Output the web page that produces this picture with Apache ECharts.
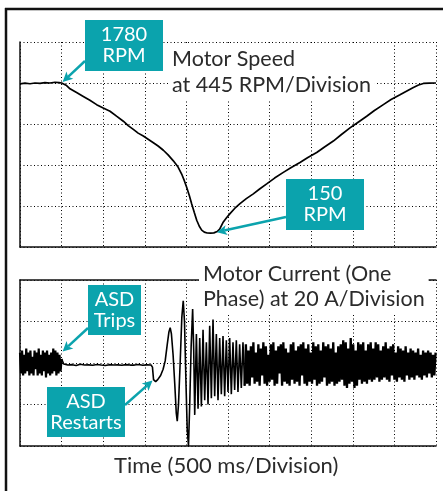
<!DOCTYPE html>
<html>
<head>
<meta charset="utf-8">
<script src="https://cdn.jsdelivr.net/npm/echarts@6.0.0/dist/echarts.min.js"></script>
<style>
  html, body { margin: 0; padding: 0; background: #fff; }
  #chart { width: 443px; height: 491px; }
</style>
</head>
<body>
<div id="chart"></div>
<script>
// Motor speed trace, [time ms, RPM]
const motorSpeed = [
  [0,1770],[60,1778],[120,1772],[180,1780],[240,1776],[300,1784],[360,1780],[420,1788],[470,1784],[500,1780],
  [560,1752],[601,1717],[680,1676],[761,1634],[840,1592],[921,1545],[1000,1508],[1082,1473],[1160,1420],
  [1242,1365],[1300,1318],[1362,1276],[1420,1236],[1482,1204],[1540,1170],[1603,1132],[1660,1096],[1723,1050],
  [1780,1000],[1843,935],[1900,868],[1943,792],[1975,720],[2003,648],[2035,560],[2063,470],[2095,375],[2124,290],
  [2155,225],[2184,183],[2215,162],[2250,152],[2290,150],[2330,153],[2370,168],[2400,195],[2444,272],[2480,315],
  [2524,362],[2580,418],[2644,470],[2720,525],[2804,577],[2880,630],[2965,685],[3060,748],[3165,810],[3260,862],
  [3365,917],[3460,972],[3566,1025],[3660,1086],[3766,1150],[3860,1218],[3966,1293],[4060,1352],[4167,1419],
  [4260,1482],[4367,1545],[4460,1600],[4567,1652],[4650,1694],[4728,1731],[4790,1758],[4848,1775],[4920,1778],
  [5000,1780]
];

// Phase current (A): drive running, sampled every 12.5 ms from 0 ms
const currentBeforeTrip = [5,-5,6,-6,4,-5,7,-4,5,-6,6,-5,3,-6,6,-3,5,-6,7,-5,4,-6,6,-4,5,-7,6,-5,4,-6,5,-5,7,-4,6,-6,5,-5,4,-4,2];
// drive tripped, every 50 ms from 525 ms
const currentTripped = [-0.5,-1,-0.8,-1.2,-0.6,-1,-0.9,-1.1,-0.7,-1,-1.2,-0.8,-1,-0.9,-1.1,-0.8,-1,-1,-0.7,-1.1,-0.9,-1];
// restart transient, [time ms, A]
const currentRestart = [
  [1592,-2],[1605,-8],[1630,-9],[1655,-8],[1690,-6],[1720,-3],[1745,1],[1770,9],[1790,15],[1805,17],[1820,14],
  [1840,4],[1860,-10],[1878,-24],[1890,-28],[1905,-20],[1925,0],[1945,22],[1962,30],[1977,20],[1995,-10],
  [2010,-32],[2025,-40],[2040,-20],[2057,8],[2075,26],[2088,6]
];
// ring-down, every 20 ms from 2100 ms
const currentRingdown = [-25,14,-22,12,-21,16,-18,10,-20,18,-17,21,-16,14,-18,12,-15,13,-16,11,-14,12,-15,10,-13,11,-14,9,-12,10,-11];
// running again, every 15 ms from 2715 ms and from 3870 ms
const currentRunA = [9,-10,6,-11,8,-7,10,-10,5,-9, 9,-11,7,-6,10,-10,8,-11,4,-9, 9,-8,10,-11,6,-10,8,-5,9,-11,
  10,-9,7,-10,5,-11,9,-8,10,-10, 6,-9,8,-11,9,-6,10,-10,7,-11, 9,-9,5,-10,10,-8,8,-11,9,-10, 6,-9,10,-7,8,-11,9,-10,7,-9,
  10,-11,5,-10,8,-9,9];
const currentRunB = [-8,11,-11,10,-12,7,-10,12,-9,9, -12,6,-11,10,-8,9,-10,10,-9,6, -10,9,-8,10,-9,7,-8,10,-7,9,
  -9,6,-8,8,-7,10,-8,7,-9,8, -6,9,-8,5,-9,8,-7,7,-8,6, -9,8,-6,5,-8,7,-7,6,-8,5, -6,7,-7,4,-8,6,-6,5,-7,6,
  -5,5,-7,4,-6,5];

// Axis divisions
const timeDivMs = 500, timeMaxMs = 5000;
const speedDiv = 445, speedMax = 2225;
const currentDiv = 20, currentMin = -40, currentMax = 40;

function sampled(values, t0, step) {
  return values.map((v, i) => [t0 + i * step, v]);
}
// The current trace is split where the drive state changes so the dense
// running bands can be drawn with a heavier pen than the transient.
const runningBefore = sampled(currentBeforeTrip, 0, 12.5);
const transient = [].concat(
  runningBefore.slice(-1),
  sampled(currentTripped, 525, 50),
  currentRestart,
  sampled(currentRingdown, 2100, 20)
);
const runningAfter = [].concat(
  transient.slice(-1),
  sampled(currentRunA, 2715, 15),
  sampled(currentRunB, 3870, 15)
);

const TEAL = '#0ba3ad';
const INK = '#2b2b2b';
const FONT = 'Lato';
const dotted = { show: true, lineStyle: { color: '#000', width: 1, type: [1, 2.5] } };
const solidAxis = { show: true, onZero: false, lineStyle: { color: '#111', width: 1.5 } };

const timeAxis = (gridIndex) => ({
  type: 'value', gridIndex, min: 0, max: timeMaxMs, interval: timeDivMs,
  axisLine: solidAxis, axisTick: { show: false }, axisLabel: { show: false }, splitLine: dotted
});

const titleText = { fontFamily: FONT, fontSize: 21.5, fontWeight: 'normal', color: INK };
const currentLine = (data, width) => ({
  type: 'line', xAxisIndex: 1, yAxisIndex: 1, data, showSymbol: false, sampling: null,
  lineStyle: { color: '#000', width }
});

const chart = echarts.init(document.getElementById('chart'), null, { renderer: 'canvas' });
chart.setOption({
  animation: false,
  backgroundColor: '#fff',
  grid: [
    { left: 20, top: 42, width: 416, height: 205 },
    { left: 20, top: 280, width: 416, height: 166 }
  ],
  xAxis: [
    timeAxis(0),
    timeAxis(1),
    { type: 'value', gridIndex: 1, position: 'top', min: 0, max: timeMaxMs,
      axisLine: solidAxis, axisTick: { show: false }, axisLabel: { show: false }, splitLine: { show: false } }
  ],
  yAxis: [
    { type: 'value', gridIndex: 0, min: 0, max: speedMax, interval: speedDiv,
      axisLine: solidAxis, axisTick: { show: false }, axisLabel: { show: false }, splitLine: dotted },
    { type: 'value', gridIndex: 1, min: currentMin, max: currentMax, interval: currentDiv,
      axisLine: solidAxis, axisTick: { show: false }, axisLabel: { show: false }, splitLine: dotted }
  ],
  title: [
    { text: 'Motor Speed\nat 445 RPM/Division', left: 168, top: 44, padding: [2, 4, 2, 4], backgroundColor: '#fff',
      textStyle: Object.assign({ lineHeight: 26 }, titleText) },
    { text: 'Motor Current (One\nPhase) at 20 A/Division', left: 199, top: 260, padding: [2, 4, 2, 4], backgroundColor: '#fff',
      textStyle: Object.assign({ lineHeight: 25 }, titleText) },
    { text: 'Time (500 ms/Division)', left: 114, top: 454, padding: 0,
      textStyle: Object.assign({ lineHeight: 24 }, titleText, { fontSize: 22 }) }
  ],
  series: [
    { type: 'line', xAxisIndex: 0, yAxisIndex: 0, data: motorSpeed, showSymbol: false,
      lineStyle: { color: '#000', width: 1.7 } },
    currentLine(runningBefore, 2.2),
    currentLine(transient, 1.6),
    currentLine(runningAfter, 2.3)
  ]
});

// Callouts: teal boxes with arrows pointing at points on the traces
function arrow(from, to) {
  const dx = to[0] - from[0], dy = to[1] - from[1];
  const len = Math.hypot(dx, dy), ux = dx / len, uy = dy / len;
  const head = 10, half = 5;
  const bx = to[0] - ux * head, by = to[1] - uy * head;
  const nx = to[0] - ux * head * 0.75, ny = to[1] - uy * head * 0.75;
  return [
    { type: 'line', z: 100, shape: { x1: from[0], y1: from[1], x2: nx, y2: ny },
      style: { stroke: TEAL, lineWidth: 2.5 } },
    { type: 'polygon', z: 100,
      shape: { points: [to, [bx - uy * half, by + ux * half], [nx, ny], [bx + uy * half, by - ux * half]] },
      style: { fill: TEAL } }
  ];
}
function box(x, y, w, h, text) {
  return [
    { type: 'rect', z: 100, shape: { x, y, width: w, height: h }, style: { fill: TEAL } },
    { type: 'text', z: 101, style: { text, x: x + w / 2, y: y + h / 2, align: 'center', verticalAlign: 'middle',
      font: '20px ' + FONT, fill: '#fff', lineHeight: 21 } }
  ];
}
const tipSpeedHigh = chart.convertToPixel({ gridIndex: 0 }, [500, 1780]);
const tipSpeedLow = chart.convertToPixel({ gridIndex: 0 }, [2330, 150]);
const tipTrip = chart.convertToPixel({ gridIndex: 1 }, [500, 6]);
const tipRestart = chart.convertToPixel({ gridIndex: 1 }, [1605, -8]);

chart.setOption({
  graphic: [
    // outer frame (left and top edges)
    { type: 'line', z: 100, shape: { x1: 6, y1: 8, x2: 6, y2: 491 }, style: { stroke: '#111', lineWidth: 2.5 } },
    { type: 'line', z: 100, shape: { x1: 5, y1: 9, x2: 443, y2: 9 }, style: { stroke: '#111', lineWidth: 2.5 } },
    ...box(85, 20, 78, 51, '1780\nRPM'),
    ...arrow([85, 61], [tipSpeedHigh[0] + 1, tipSpeedHigh[1] - 1]),
    ...box(286, 179, 78, 51, '150\nRPM'),
    ...arrow([286, 217], [tipSpeedLow[0] + 3, tipSpeedLow[1] - 1]),
    ...box(88, 285, 53, 50, 'ASD\nTrips'),
    ...arrow([88, 328], [tipTrip[0] + 1, tipTrip[1] + 1]),
    ...box(47, 387, 78, 50, 'ASD\nRestarts'),
    ...arrow([125, 405], [tipRestart[0] - 1, tipRestart[1] + 1])
  ]
});
</script>
</body>
</html>
